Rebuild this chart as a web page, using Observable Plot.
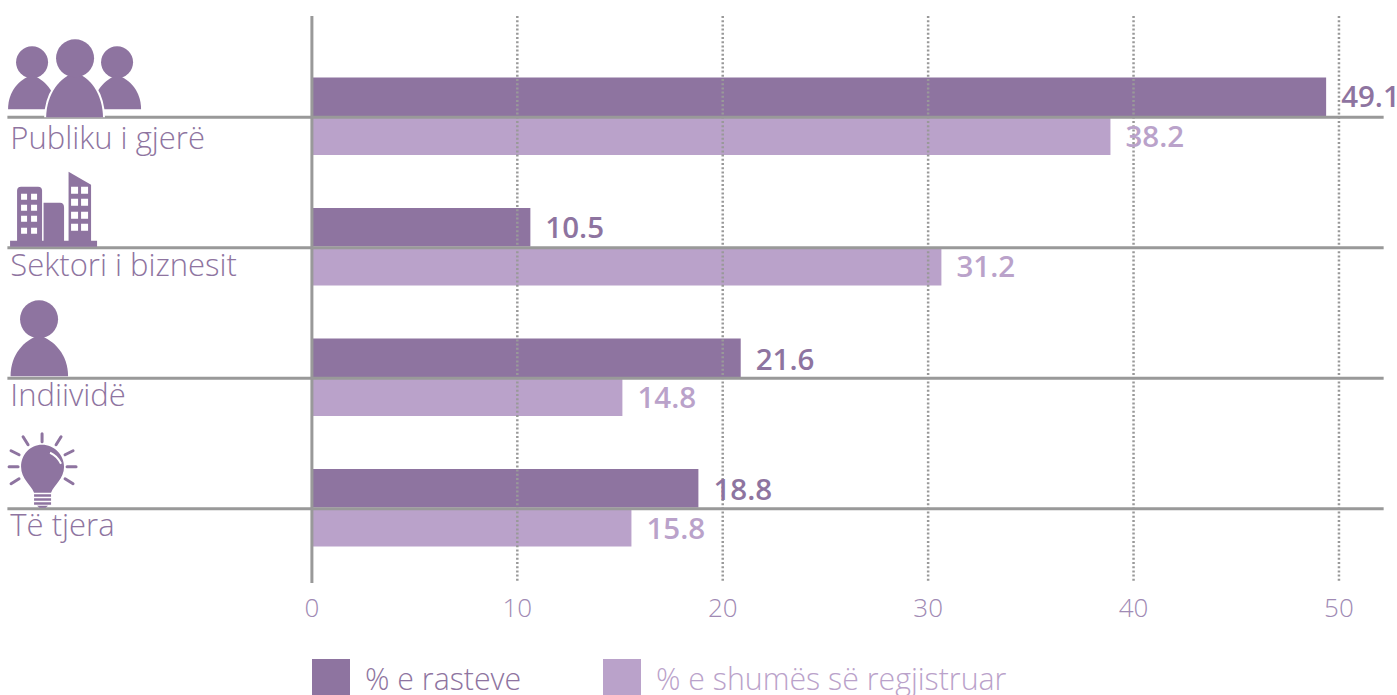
<!DOCTYPE html>
<html><head><meta charset="utf-8">
<script src="https://cdn.jsdelivr.net/npm/d3@7"></script>
<script src="https://cdn.jsdelivr.net/npm/@observablehq/plot@0.6"></script>
<style>
html,body{margin:0;padding:0;background:#fff;overflow:hidden;width:1397px;height:695px}
#chart svg{display:block}
.lg{position:absolute;top:659px;height:38px;display:flex;align-items:center;font:350 30.3px "Open Sans",sans-serif}
.lg i{display:inline-block;width:38px;height:38px;margin-right:15px}
</style></head><body>
<div id="chart"></div>
<div class="lg" style="left:312px;color:#8e74a0"><i style="background:#8e74a0"></i>% e rasteve</div>
<div class="lg" style="left:603px;color:#baa2ca"><i style="background:#baa2ca"></i>% e shumës së regjistruar</div>
<script>
const categories = ["Publiku i gjerë", "Sektori i biznesit", "Indiividë", "Të tjera"];
const seriesA = [49.4, 10.66, 20.9, 18.84];
const seriesB = [38.9, 30.67, 15.14, 15.58];
const labelsA = ["49.1", "10.5", "21.6", "18.8"];
const labelsB = ["38.2", "31.2", "14.8", "15.8"];
const xTicks = [0, 10, 20, 30, 40, 50];

const DARK = "#8e74a0", LIGHT = "#baa2ca", GREY = "#999999";
const wrap = b => "data:image/svg+xml," + encodeURIComponent(
  `<svg xmlns="http://www.w3.org/2000/svg" viewBox="0 0 150 100" width="150" height="100"><g fill="${DARK}">${b}</g></svg>`);
const win = (xs, ys, w, h) => ys.flatMap(y => xs.map(x => `<rect x="${x}" y="${y}" width="${w}" height="${h}" fill="#fff"/>`)).join("");
const icons = [
  wrap(`<circle cx="32" cy="45" r="16"/><circle cx="117" cy="45" r="16"/>
    <path d="M8 92C8 74 19 62 32 58C44 62 56 74 56 92Z"/><path d="M93 92C93 74 105 62 117 58C130 62 141 74 141 92Z"/>
    <path d="M46 102C46 76 60 60 75 55C90 60 103 76 103 102Z" stroke="#fff" stroke-width="4" paint-order="stroke"/>
    <circle cx="75" cy="41" r="19"/>`),
  wrap(`<rect x="10" y="93" width="87" height="6"/>
    <path d="M17 94V43Q17 39 21 39H38Q42 39 42 43V94Z"/>
    <path d="M43.5 94V55H60Q64 55 64 60V94Z"/>
    <path d="M68.5 94V24L91 37V94Z"/>` + win([21, 31], [46, 57, 68, 80], 6, 6) + win([71, 81], [39, 51, 64, 76], 7, 7)),
  wrap(`<circle cx="39" cy="41" r="19"/><path d="M10.5 98C10.5 76 24 62 39 57C54 62 68 76 68 98Z"/>`),
  wrap(`<g stroke="${DARK}" stroke-width="3" stroke-linecap="round" fill="none">
      <path d="M42 25V33M23 28L28 36M61 28L56 36M11 42L19 46M73 42L65 46M9 58H18M67 58H76M11 75L19 70M73 75L65 70"/></g>
    <path d="M42 36C54 36 64 46 64 58C64 70 54 76 51 84H34C31 76 21 70 21 58C21 46 30 36 42 36Z"/>
    <rect x="34" y="85.500" width="17" height="2.500"/><rect x="34" y="89.500" width="17" height="2.500"/><rect x="34" y="93.500" width="17" height="2.500"/>
    <path d="M37 97H48L45.500 99H39.500Z"/>
    <path d="M50 44Q57 47 61 55" stroke="#fff" stroke-width="2" fill="none"/>`)
];

const catDy = [21.5, 18, 18, 17.5];
const aDy = [-20, -19, -18, -18];
const bDy = [20, 20, 20, 21];
const rows = categories.map((c, i) => ({
  c, a: seriesA[i], b: seriesB[i], la: labelsA[i], lb: labelsB[i], icon: icons[i]
}));
const perRow = (opts, dys) => rows.map((r, i) => Plot.text([r], {...opts, dy: dys[i]}));
const font = {fontFamily: "'Open Sans', sans-serif"};
const plot = Plot.plot({
  width: 1397, height: 640,
  marginTop: 16, marginBottom: 57, marginLeft: 0, marginRight: 0,
  style: {background: "#fff", ...font, overflow: "visible"},
  x: {domain: [-15.16, 52.85], range: [0, 1397], label: null},
  y: {domain: categories, range: [51.5, 573.5], padding: 0, round: false, label: null, axis: null},
  marks: [
    Plot.barX(rows, {x: "a", y: "c", fill: DARK, insetTop: 26, insetBottom: 66}),
    Plot.barX(rows, {x: "b", y: "c", fill: LIGHT, insetTop: 66, insetBottom: 27}),
    Plot.ruleX(xTicks.filter(d => d > 0), {stroke: GREY, strokeWidth: 2.5, strokeDasharray: "2 2.2"}),
    Plot.ruleX([0], {stroke: GREY, strokeWidth: 3}),
    Plot.ruleY(categories, {x1: -14.8, x2: 52.2, stroke: GREY, strokeWidth: 3}),
    Plot.image(rows, {x: () => -11.53, y: "c", src: "icon", width: 150, height: 100, dy: -50}),
    perRow({x: () => -14.68, y: "c", text: "c", textAnchor: "start", fontSize: 31, fontWeight: 350, fill: DARK}, catDy),
    perRow({x: "a", y: "c", text: "la", textAnchor: "start", dx: 14.5, fontSize: 29.5, fontWeight: 600, fill: DARK}, aDy),
    perRow({x: "b", y: "c", text: "lb", textAnchor: "start", dx: 14.5, fontSize: 29.5, fontWeight: 600, fill: LIGHT}, bDy),
    Plot.axisX({ticks: xTicks, anchor: "bottom", tickSize: 0, tickPadding: 15, fontSize: 26, fontWeight: 300, fill: "#a08ab4", label: null, tickFormat: d => d})
  ]
});
document.getElementById("chart").append(plot);
</script>
</body></html>
